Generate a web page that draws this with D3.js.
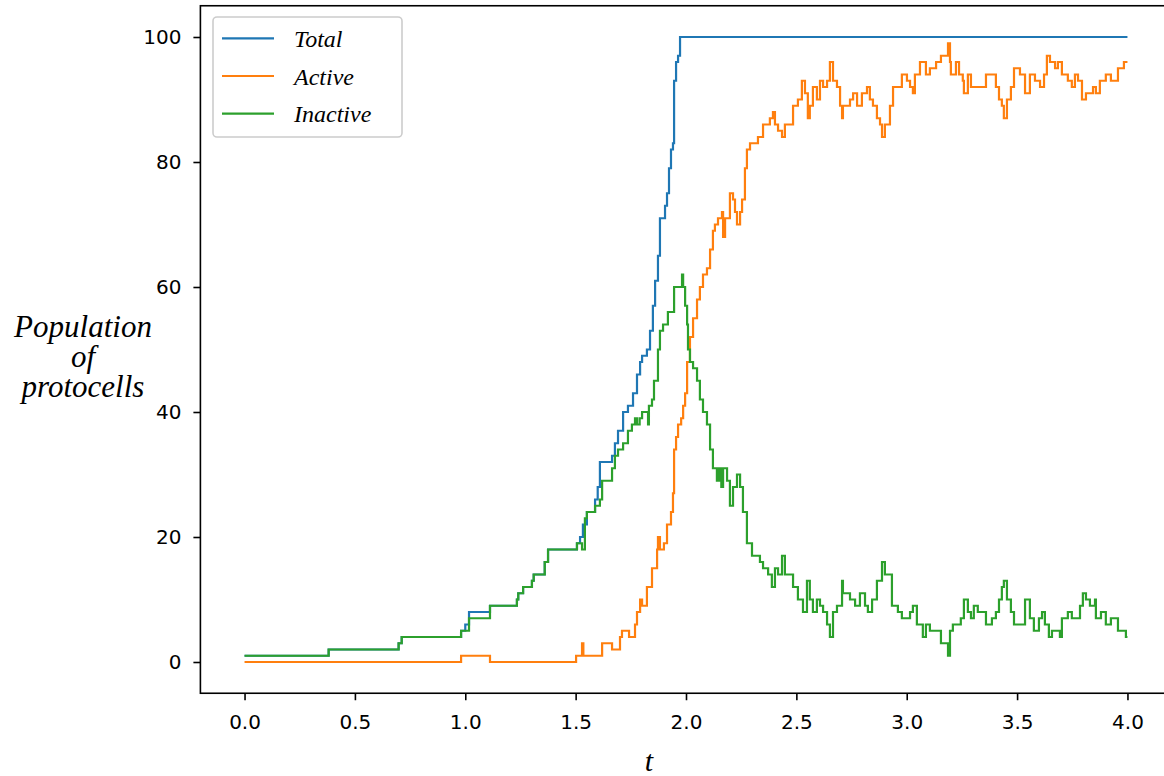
<!DOCTYPE html>
<html>
<head>
<meta charset="utf-8">
<title>Population of protocells</title>
<script src="https://cdn.jsdelivr.net/npm/d3@7"></script>
<style>
  body { margin: 0; background: #fff; }
  .axis text { font-family: "DejaVu Sans", sans-serif; font-size: 20px; fill: #000; }
  .axis line { stroke: #000; stroke-width: 1.6; }
  .lbl { font-family: "Liberation Serif", "Times New Roman", serif; font-style: italic; fill: #000; }
</style>
</head>
<body>
<script>
// Values (step data, value holds from each time on)
var totalTime = [0, 0.381, 0.698, 0.712, 0.981, 1.0, 1.017, 1.112, 1.234, 1.240,
  1.262, 1.302, 1.310, 1.360, 1.375, 1.506, 1.520, 1.533, 1.551, 1.588,
  1.600, 1.610, 1.665, 1.678, 1.692, 1.715, 1.737, 1.760, 1.778, 1.792,
  1.801, 1.823, 1.837, 1.850, 1.860, 1.873, 1.882, 1.905, 1.914, 1.923,
  1.932, 1.941, 1.946, 1.955, 1.964, 1.973, 4.0];
var totalCount = [1, 2, 3, 4, 5, 6, 8, 9, 10, 11,
  12, 13, 14, 16, 18, 19, 20, 22, 24, 26,
  28, 32, 33, 35, 37, 40, 41, 43, 46, 48,
  49, 50, 53, 57, 61, 65, 71, 73, 75, 79,
  82, 83, 93, 96, 97, 100, 100];

var activeTime = [0, 0.981, 1.112, 1.502, 1.529, 1.535, 1.620, 1.665, 1.701, 1.710,
  1.742, 1.769, 1.778, 1.792, 1.801, 1.823, 1.846, 1.869, 1.873, 1.882,
  1.900, 1.914, 1.932, 1.941, 1.946, 1.955, 1.964, 1.978, 1.987, 1.996,
  2.005, 2.018, 2.032, 2.050, 2.063, 2.077, 2.095, 2.109, 2.122, 2.131,
  2.145, 2.163, 2.168, 2.177, 2.199, 2.213, 2.222, 2.231, 2.245, 2.254,
  2.267, 2.276, 2.290, 2.326, 2.349, 2.380, 2.394, 2.403, 2.417, 2.435,
  2.448, 2.485, 2.507, 2.525, 2.539, 2.552, 2.561, 2.575, 2.593, 2.607,
  2.621, 2.639, 2.652, 2.666, 2.684, 2.698, 2.707, 2.711, 2.743, 2.757,
  2.775, 2.797, 2.820, 2.833, 2.847, 2.865, 2.879, 2.888, 2.901, 2.924,
  2.938, 2.978, 3.001, 3.015, 3.028, 3.037, 3.060, 3.087, 3.105, 3.133,
  3.155, 3.187, 3.196, 3.200, 3.223, 3.237, 3.254, 3.259, 3.277, 3.291,
  3.359, 3.404, 3.418, 3.431, 3.440, 3.454, 3.472, 3.486, 3.513, 3.536,
  3.558, 3.581, 3.604, 3.622, 3.635, 3.649, 3.672, 3.685, 3.703, 3.730,
  3.748, 3.762, 3.776, 3.794, 3.812, 3.844, 3.857, 3.875, 3.902, 3.925,
  3.957, 3.984, 4.0];
var activeCount = [0, 1, 0, 1, 3, 1, 3, 2, 4, 5,
  4, 6, 8, 10, 9, 12, 15, 18, 20, 18,
  19, 22, 24, 27, 34, 36, 38, 39, 41, 43,
  48, 52, 55, 58, 60, 62, 63, 66, 69, 70,
  71, 72, 68, 71, 75, 74, 72, 70, 72, 74,
  79, 82, 83, 84, 86, 87, 88, 86, 85, 84,
  86, 89, 90, 93, 91, 87, 89, 92, 90, 93,
  92, 93, 96, 93, 92, 89, 87, 89, 90, 91,
  89, 91, 92, 90, 89, 87, 86, 84, 86, 89,
  92, 94, 93, 92, 91, 94, 96, 94, 95, 96,
  97, 99, 96, 94, 96, 94, 93, 91, 94, 92,
  94, 92, 90, 89, 87, 90, 92, 95, 94, 91,
  94, 93, 92, 94, 97, 96, 95, 96, 94, 93,
  92, 94, 93, 90, 91, 92, 91, 93, 94, 93,
  95, 96, 96];

var inactiveTime = [0, 0.381, 0.698, 0.712, 0.981, 1.017, 1.112, 1.234, 1.240, 1.262,
  1.302, 1.310, 1.360, 1.375, 1.506, 1.529, 1.542, 1.551, 1.588, 1.610,
  1.620, 1.665, 1.678, 1.692, 1.715, 1.737, 1.755, 1.769, 1.778, 1.790,
  1.801, 1.828, 1.832, 1.846, 1.855, 1.873, 1.882, 1.896, 1.918, 1.946,
  1.982, 1.987, 1.996, 2.005, 2.009, 2.018, 2.032, 2.050, 2.063, 2.077,
  2.095, 2.109, 2.122, 2.140, 2.150, 2.160, 2.168, 2.186, 2.199, 2.213,
  2.231, 2.245, 2.258, 2.276, 2.299, 2.335, 2.349, 2.372, 2.389, 2.403,
  2.417, 2.435, 2.448, 2.485, 2.507, 2.530, 2.548, 2.561, 2.575, 2.593,
  2.607, 2.621, 2.639, 2.652, 2.666, 2.684, 2.707, 2.711, 2.743, 2.766,
  2.788, 2.811, 2.824, 2.843, 2.865, 2.888, 2.901, 2.933, 2.960, 2.978,
  3.015, 3.028, 3.046, 3.073, 3.087, 3.105, 3.155, 3.187, 3.196, 3.209,
  3.245, 3.259, 3.277, 3.291, 3.304, 3.322, 3.359, 3.386, 3.404, 3.418,
  3.431, 3.440, 3.454, 3.472, 3.486, 3.536, 3.558, 3.576, 3.599, 3.613,
  3.626, 3.644, 3.658, 3.694, 3.703, 3.730, 3.748, 3.785, 3.798, 3.812,
  3.830, 3.853, 3.857, 3.880, 3.902, 3.925, 3.957, 3.993, 4.0];
var inactiveCount = [1, 2, 3, 4, 5, 7, 9, 10, 11, 12,
  13, 14, 16, 18, 19, 18, 23, 24, 25, 26,
  29, 31, 33, 34, 35, 37, 38, 39, 38, 39,
  40, 38, 41, 42, 45, 50, 53, 54, 56, 60,
  62, 60, 57, 54, 50, 48, 47, 45, 42, 40,
  38, 34, 31, 29, 31, 28, 31, 29, 25, 28,
  30, 28, 24, 19, 17, 16, 15, 14, 12, 15,
  14, 17, 14, 12, 10, 8, 13, 10, 8, 10,
  9, 8, 6, 4, 8, 9, 13, 11, 10, 9,
  11, 9, 8, 10, 13, 16, 14, 9, 8, 7,
  8, 9, 6, 4, 6, 5, 3, 1, 5, 6,
  7, 10, 8, 7, 9, 8, 6, 7, 8, 10,
  12, 13, 10, 8, 6, 10, 7, 5, 7, 8,
  6, 4, 5, 4, 7, 8, 7, 9, 11, 10,
  9, 10, 7, 8, 6, 7, 5, 4, 4];

var seriesNames = ["Total", "Active", "Inactive"];
var seriesColors = ["#1f77b4", "#ff7f0e", "#2ca02c"];
var xTicks = [0, 0.5, 1, 1.5, 2, 2.5, 3, 3.5, 4];
var yTicks = [0, 20, 40, 60, 80, 100];

var w = 1164;
var h = 776;

var svg = d3.select("body").append("svg").attr("width", w).attr("height", h);

// Scales (matplotlib style 5% margins)
var x = d3.scaleLinear().domain([-0.2, 4.2]).range([200.4, 1171.6]);
var y = d3.scaleLinear().domain([-5, 105]).range([693.25, 5.75]);

// Lines
var series = [
  d3.zip(totalTime, totalCount),
  d3.zip(activeTime, activeCount),
  d3.zip(inactiveTime, inactiveCount)
];
var line = d3.line()
  .x(function(d) { return x(d[0]); })
  .y(function(d) { return y(d[1]); })
  .curve(d3.curveStepAfter);

series.forEach(function(s, i) {
  svg.append("path").datum(s)
     .attr("d", line)
     .attr("fill", "none")
     .attr("stroke", seriesColors[i])
     .attr("stroke-width", 2.2);
});

// Axes
var xAxis = d3.axisBottom(x).tickValues(xTicks).tickFormat(d3.format(".1f"))
  .tickSize(7).tickSizeOuter(0).tickPadding(15);
var yAxis = d3.axisLeft(y).tickValues(yTicks).tickFormat(d3.format("d"))
  .tickSize(7).tickSizeOuter(0).tickPadding(12);

var gx = svg.append("g").attr("class", "axis")
  .attr("transform", "translate(0," + y(-5) + ")").call(xAxis);
var gy = svg.append("g").attr("class", "axis")
  .attr("transform", "translate(" + x(-0.2) + ",0)").call(yAxis);
gx.select(".domain").remove();
gy.select(".domain").remove();
gx.selectAll("text").attr("font-size", null);
gy.selectAll("text").attr("font-size", null);

// Frame
svg.append("rect")
   .attr("x", x(-0.2)).attr("y", y(105))
   .attr("width", x(4.2) - x(-0.2)).attr("height", y(-5) - y(105))
   .attr("fill", "none").attr("stroke", "#000").attr("stroke-width", 1.6);

// Axis labels
svg.append("text").attr("class", "lbl")
   .attr("x", 649).attr("y", 771)
   .attr("text-anchor", "middle").style("font-size", "30px").text("t");

var yLabel = ["Population", "of", "protocells"];
svg.selectAll(".ylab").data(yLabel).enter().append("text")
   .attr("class", "lbl ylab")
   .attr("x", 83).attr("y", function(d, i) { return 337 + i * 30; })
   .attr("text-anchor", "middle").style("font-size", "31px")
   .text(function(d) { return d; });

// Legend
var legend = svg.append("g");
legend.append("rect")
   .attr("x", 213).attr("y", 17).attr("width", 189).attr("height", 120)
   .attr("rx", 4).attr("fill", "#fff").attr("fill-opacity", 0.8)
   .attr("stroke", "#cccccc").attr("stroke-width", 1.6);
seriesNames.forEach(function(name, i) {
  var ly = 38.3 + i * 37.7;
  legend.append("line")
     .attr("x1", 222).attr("x2", 274).attr("y1", ly).attr("y2", ly)
     .attr("stroke", seriesColors[i]).attr("stroke-width", 2.2);
  legend.append("text").attr("class", "lbl")
     .attr("x", 294).attr("y", ly + 8.5)
     .style("font-size", "24px").text(name);
});
</script>
</body>
</html>
